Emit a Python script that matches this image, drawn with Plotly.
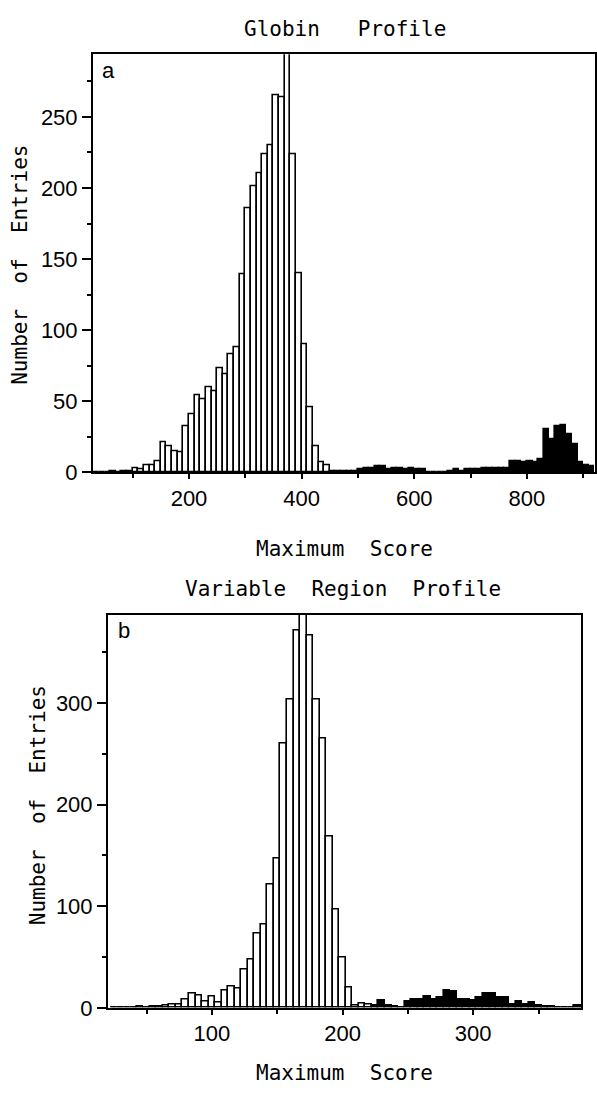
import plotly.graph_objects as go

W, H = 597, 1088

# ---------------- Panel a : Globin profile ----------------
A_BIN_WIDTH = 10
A_WHITE_FIRST_BIN = 30          # lower edge of the first open (white) bin
A_WHITE_COUNTS = [0, 0, 0, 1, 0, 1, 1, 3, 2, 5, 5, 8, 21, 18, 15, 14, 32, 41, 54, 51,
                  60, 57, 73, 69, 83, 88, 139, 186, 201, 210, 224, 230, 265, 264, 296,
                  224, 140, 90, 46, 18, 7, 5]
A_BLACK_FIRST_BIN = 450         # lower edge of the first filled (black) bin
A_BLACK_COUNTS = [1, 1, 1, 1, 1, 2, 3, 3, 4, 4, 2, 3, 3, 2, 3, 2, 2, 0, 0, 0,
                  0, 1, 2, 1, 2, 2, 2, 3, 3, 3, 3, 3, 8, 8, 7, 8, 7, 9, 30, 23,
                  32, 33, 27, 20, 7, 5, 4]
A_XRANGE = [29.5, 921]
A_YRANGE = [0, 294]
A_TITLE = "Globin   Profile"

# ---------------- Panel b : Variable region profile ----------------
B_BIN_WIDTH = 5
B_WHITE_FIRST_BIN = 22.5
B_WHITE_COUNTS = [0, 0, 0, 0, 1, 0, 1, 1, 2, 3, 3, 8, 14, 12, 6, 11, 5, 17, 21, 19,
                  38, 47, 73, 82, 121, 147, 260, 303, 371, 392, 366, 303, 265, 169,
                  97, 49, 20, 2, 4, 3]
B_BLACK_FIRST_BIN = 222.5
B_BLACK_COUNTS = [2, 7, 2, 1, 0, 6, 8, 8, 11, 8, 10, 17, 16, 8, 8, 7, 10, 14, 14,
                  10, 10, 3, 6, 3, 5, 2, 1, 1, 0, 0, 0, 2]
B_XRANGE = [20.5, 382.5]
B_YRANGE = [0, 387]
B_TITLE = "Variable  Region  Profile"

X_TITLE = "Maximum  Score"
Y_TITLE = "Number  of  Entries"


def centers(first, width, n):
    return [first + width * (i + 0.5) for i in range(n)]


def px(x):
    return x / W


def py(y):
    return 1 - y / H


fig = go.Figure()

BAR_LINE = dict(color="black", width=1.6)

fig.add_trace(go.Bar(x=centers(A_WHITE_FIRST_BIN, A_BIN_WIDTH, len(A_WHITE_COUNTS)),
                     y=A_WHITE_COUNTS, width=A_BIN_WIDTH,
                     marker=dict(color="white", line=BAR_LINE),
                     xaxis="x", yaxis="y", showlegend=False))
fig.add_trace(go.Bar(x=centers(A_BLACK_FIRST_BIN, A_BIN_WIDTH, len(A_BLACK_COUNTS)),
                     y=A_BLACK_COUNTS, width=A_BIN_WIDTH,
                     marker=dict(color="black", line=BAR_LINE),
                     xaxis="x", yaxis="y", showlegend=False))
fig.add_trace(go.Bar(x=centers(B_WHITE_FIRST_BIN, B_BIN_WIDTH, len(B_WHITE_COUNTS)),
                     y=B_WHITE_COUNTS, width=B_BIN_WIDTH,
                     marker=dict(color="white", line=BAR_LINE),
                     xaxis="x2", yaxis="y2", showlegend=False))
fig.add_trace(go.Bar(x=centers(B_BLACK_FIRST_BIN, B_BIN_WIDTH, len(B_BLACK_COUNTS)),
                     y=B_BLACK_COUNTS, width=B_BIN_WIDTH,
                     marker=dict(color="black", line=BAR_LINE),
                     xaxis="x2", yaxis="y2", showlegend=False))

TICKFONT = dict(family="Liberation Sans", size=22, color="black")
MONO = "DejaVu Sans Mono"

common_axis = dict(showline=True, linecolor="black", linewidth=2, mirror=True,
                   showgrid=False, zeroline=False, ticks="outside",
                   tickcolor="black", tickwidth=1.5, tickfont=TICKFONT)

fig.update_layout(
    width=W, height=H,
    margin=dict(l=0, r=0, t=0, b=0),
    paper_bgcolor="white", plot_bgcolor="white",
    bargap=0, barmode="overlay", hovermode=False,
    xaxis=dict(domain=[px(93), px(595)], range=A_XRANGE, anchor="y",
               tickmode="linear", tick0=0, dtick=200, ticklen=5,
               minor=dict(tickmode="linear", tick0=0, dtick=100, ticklen=4,
                          ticks="outside", tickcolor="black", tickwidth=1.5),
               **common_axis),
    yaxis=dict(domain=[py(478), py(55)], range=A_YRANGE, anchor="x",
               tickmode="linear", tick0=0, dtick=50, ticklen=9,
               minor=dict(tickmode="linear", tick0=0, dtick=25, ticklen=4,
                          ticks="outside", tickcolor="black", tickwidth=1.5),
               **common_axis),
    xaxis2=dict(domain=[px(108), px(581)], range=B_XRANGE, anchor="y2",
                tickmode="linear", tick0=0, dtick=100, ticklen=5,
                minor=dict(tickmode="linear", tick0=0, dtick=50, ticklen=4,
                           ticks="outside", tickcolor="black", tickwidth=1.5),
                **common_axis),
    yaxis2=dict(domain=[py(1020), py(622)], range=B_YRANGE, anchor="x2",
                tickmode="linear", tick0=0, dtick=100, ticklen=9,
                minor=dict(tickmode="linear", tick0=0, dtick=50, ticklen=4,
                           ticks="outside", tickcolor="black", tickwidth=1.5),
                **common_axis),
)

ann = []


def text(t, x, y, size=21, family=MONO, angle=0):
    ann.append(dict(text=t, x=px(x), y=py(y), xref="paper", yref="paper",
                    xanchor="center", yanchor="middle", showarrow=False,
                    textangle=angle, font=dict(family=family, size=size, color="black")))


text(A_TITLE, 345, 29)
text(X_TITLE, 345, 556)
text(Y_TITLE, 20, 268, angle=-90)
text("a", 108, 71, size=22, family="Liberation Sans")

text(B_TITLE, 343, 596)
text(X_TITLE, 345, 1086)
text(Y_TITLE, 38, 815, angle=-90)
text("b", 124, 638, size=22, family="Liberation Sans")

fig.update_layout(annotations=ann)

# remove the browser's default 8px page margin so the figure starts at the window corner
fig.write_html("out.html", config={"displayModeBar": False},
               post_script="document.body.style.margin='0px';document.body.style.overflow='hidden';")
